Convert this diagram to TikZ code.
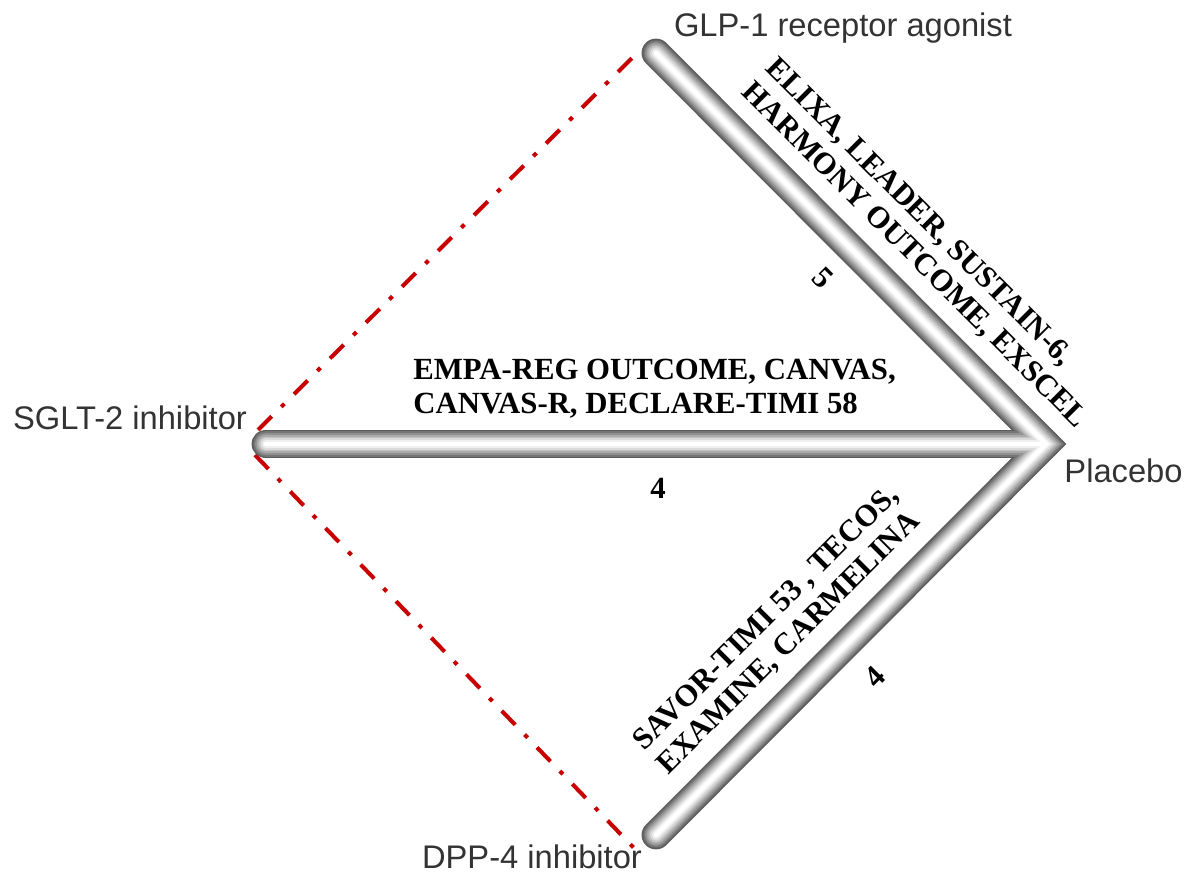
\documentclass[tikz,border=0pt]{standalone}
\usepackage{fontspec}
\setmainfont{Liberation Serif}
\newfontfamily\armfont{Liberation Sans}

\definecolor{nmared}{RGB}{200,0,0}

\begin{document}
\begin{tikzpicture}[
		drug/.style={font=\armfont\fontsize{18.6}{22}\selectfont, text=black!80, inner sep=0pt, anchor=base},
		trials/.style={font=\bfseries\fontsize{17.5}{19.2}\selectfont, align=left, inner sep=0pt, anchor=west},
		count/.style={font=\bfseries\fontsize{17.5}{19.2}\selectfont, inner sep=0pt},
		indirect/.style={draw=nmared, line width=2.3pt, dash pattern=on 11pt off 7.7pt on 2.5pt off 7.7pt}
	]
		\useasboundingbox (0,0) rectangle (23.78,17.54);
		\coordinate (glp) at (13.12,16.48);
		\coordinate (sglt) at (5.32,8.66);
		\coordinate (dpp) at (13.12,0.84);
		\coordinate (plac) at (20.92,8.66);
		% indirect comparisons
		\draw[indirect] ([shift={(-0.16,0.28)}]sglt) -- ([shift={(-0.44,-0.06)}]glp);
		\draw[indirect] ([shift={(-0.22,-0.22)}]sglt) -- ([shift={(-0.44,-0.26)}]dpp);
		% tubes
		\foreach \w/\c in {16.4/black!64, 14.5/black!54, 12.5/black!43, 10.5/black!33, 8.5/black!23, 6.5/black!14, 4.5/black!6, 2.5/white}{
			\draw[line width=\w pt, \c, line cap=round, line join=miter] (glp) -- (plac) -- (dpp);
			\draw[line width=\w pt, \c, line cap=round] (sglt) -- (plac);
		}
		\node[drug] (glplab) at (16.86,16.8) {GLP-1 receptor agonist};
		\node[drug] (sgltlab) at (2.6,8.94) {SGLT-2 inhibitor};
		\node[drug] (placlab) at (22.47,7.88) {Placebo};
		\node[drug] (dpplab) at (10.64,0.18) {DPP-4 inhibitor};
		\node[trials] (sgltrct) at (8.26,9.76) {EMPA-REG OUTCOME, CANVAS,\\CANVAS-R, DECLARE-TIMI 58};
		\node[trials, rotate=-45] (glprct) at (15.16,16.02) {ELIXA, LEADER, SUSTAIN-6,\\HARMONY OUTCOME, EXSCEL};
		\node[trials, rotate=45] (dpprct) at (13.02,2.38) {SAVOR-TIMI 53 , TECOS,\\EXAMINE, CARMELINA};
		\node[count] (sgltn) at (13.16,7.78) {4};
		\node[count, rotate=-45] (glpn) at (16.45,11.98) {5};
		\node[count, rotate=45] (dppn) at (17.5,4.0) {4};
	\end{tikzpicture}
\end{document}
